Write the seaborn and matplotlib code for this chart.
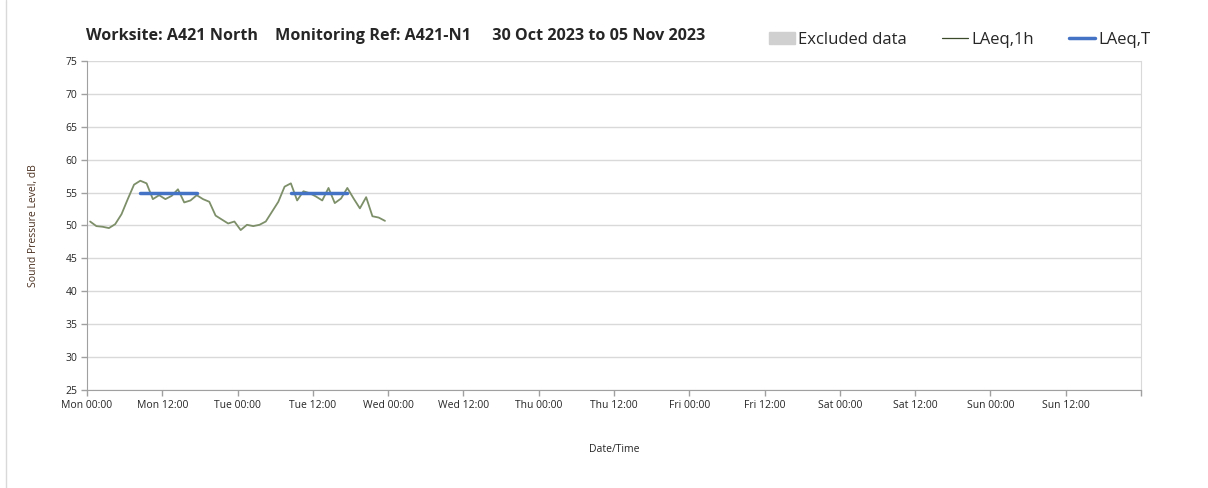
import numpy as np
import pandas as pd
import matplotlib
matplotlib.use('Agg')
import matplotlib.pyplot as plt
import matplotlib.patches as mpatches
from matplotlib.lines import Line2D
import seaborn as sns

# --- Data (hours from Mon 00:00) ---
hours = [h + 0.5 for h in range(48)]
laeq_1h = [50.6, 49.9, 49.8, 49.6, 50.2, 51.7, 54.0, 56.2, 56.8, 56.4,
           54.0, 54.6, 54.0, 54.5, 55.5, 53.5, 53.8, 54.6, 54.0, 53.6,
           51.5, 50.9, 50.3, 50.6, 49.3, 50.1, 49.9, 50.1, 50.6, 52.1,
           53.6, 55.9, 56.4, 53.8, 55.2, 54.9, 54.4, 53.8, 55.7, 53.4,
           54.1, 55.7, 54.1, 52.6, 54.3, 51.4, 51.2, 50.7]
period_start = [8.5, 32.5]
period_end = [17.5, 41.5]
laeq_t = [55.0, 54.9]

tick_labels = ['Mon 00:00', 'Mon 12:00', 'Tue 00:00', 'Tue 12:00', 'Wed 00:00', 'Wed 12:00',
               'Thu 00:00', 'Thu 12:00', 'Fri 00:00', 'Fri 12:00', 'Sat 00:00', 'Sat 12:00',
               'Sun 00:00', 'Sun 12:00', '']

title = 'Worksite: A421 North    Monitoring Ref: A421-N1     30 Oct 2023 to 05 Nov 2023'

sns.set_style('white')
plt.rcParams['font.family'] = ['Open Sans', 'DejaVu Sans']

df = pd.DataFrame({'hour': hours, 'LAeq,1h': laeq_1h})

fig = plt.figure(figsize=(12.08, 4.88), dpi=100)
ax = fig.add_axes([0.072, 0.201, 0.8725, 0.674])

sns.lineplot(data=df, x='hour', y='LAeq,1h', color='#7d8f69', linewidth=1.3, ax=ax)
for s, e, v in zip(period_start, period_end, laeq_t):
    sns.lineplot(x=[s, e], y=[v, v], color='#4472C4', linewidth=2.5, ax=ax)

ax.set_xlim(0, 168)
ax.set_ylim(25, 75)
ax.set_yticks(range(25, 80, 5))
ax.set_xticks(range(0, 169, 12))
ax.set_xticklabels(tick_labels)
ax.set_xticks(range(24, 169, 24), minor=True)
ax.grid(False)
ax.grid(axis='y', which='major', color='#d9d9d9', linewidth=1)
ax.grid(axis='x', which='minor', color='#d9d9d9', linewidth=1)
ax.tick_params(axis='both', which='major', labelsize=7.5, length=4, direction='out',
               color='#a0a0a0', width=1, bottom=True, left=True, pad=3)
ax.tick_params(axis='x', which='minor', length=0)
for side in ['left', 'bottom']:
    ax.spines[side].set_color('#a0a0a0')
ax.spines['right'].set_color('#d9d9d9')
ax.spines['top'].set_visible(False)
ax.set_xlabel('Date/Time', fontsize=7.5, labelpad=24)
ax.set_ylabel('Sound Pressure Level, dB', fontsize=7.5, color='#4a3020', labelpad=19)

fig.text(0.071, 0.926, title, fontsize=11.6, fontweight='bold', va='center', ha='left')

handles = [mpatches.Patch(color='#d0d0d0', label='Excluded data'),
           Line2D([], [], color='#3a4a2a', linewidth=0.9, label='LAeq,1h'),
           Line2D([], [], color='#4472C4', linewidth=2.5, label='LAeq,T')]
fig.legend(handles=handles, loc='center right', bbox_to_anchor=(0.952, 0.918), ncol=3,
           frameon=False, fontsize=12, handlelength=1.55, handletextpad=0.2, columnspacing=2.1,
           borderpad=0, borderaxespad=0)

# thin frame at left edge like the source export
fig.add_artist(Line2D([0.005, 0.005], [0, 1], transform=fig.transFigure, color='#d9d9d9', linewidth=1))

fig.savefig('out.png', dpi=100)
